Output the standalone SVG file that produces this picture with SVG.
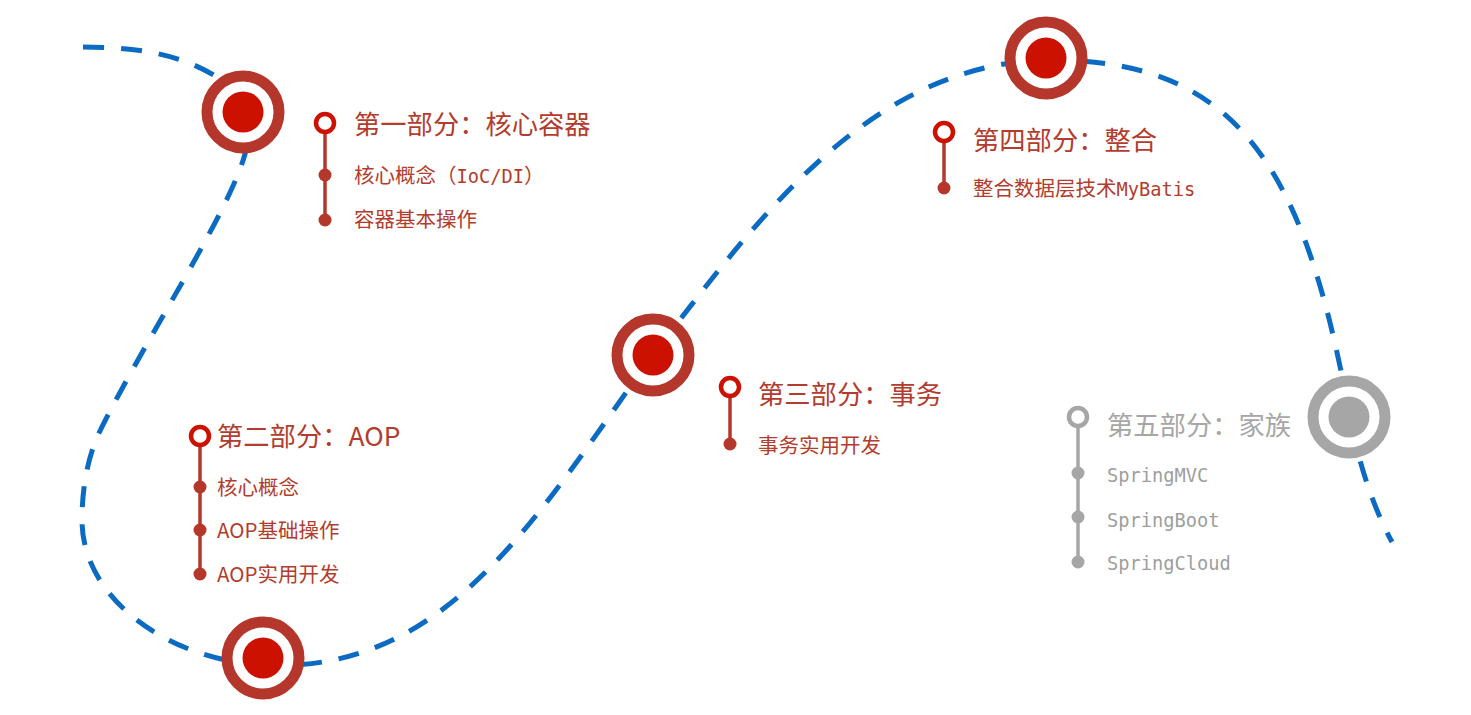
<svg xmlns="http://www.w3.org/2000/svg" width="1471" height="715" viewBox="0 0 1471 715">
<style>
.path{fill:none;stroke:#0B6BC2;stroke-width:5;stroke-dasharray:21 17}
.ring{fill:none;stroke:#B5362A;stroke-width:11}
.dot{fill:#CC1100}
.gring{fill:none;stroke:#A6A6A6;stroke-width:11}
.gdot{fill:#A6A6A6}
.open{fill:#fff;stroke:#CC1100;stroke-width:4.5}
.gopen{fill:#fff;stroke:#A6A6A6;stroke-width:4.5}
.line{stroke:#B5362A;stroke-width:3.5}
.gline{stroke:#A6A6A6;stroke-width:3.5}
.sd{fill:#B5362A}
.gsd{fill:#A6A6A6}
.title{font-family:"Noto Sans CJK SC","Noto Sans",sans-serif;font-size:26.3px;font-weight:400;fill:#B23C2D}
.sub{font-family:"Noto Sans CJK SC","Noto Sans",sans-serif;font-size:20.5px;fill:#B23C2D}
.mono{font-family:"DejaVu Sans Mono","Noto Sans CJK SC",monospace;font-size:18.7px}
.gray{fill:#A6A6A6}
.gsub{fill:#9E9E9E}
</style>
<g id="connectors">
<path class="path" d="M 83 47 C 150 47 200 58 240 95"/>
<path class="path" d="M 247 145 C 238 200 144 340 98 435 C 87 460 82 490 82 520 C 82 600 170 660 263 665"/>
<path class="path" d="M 263 665 C 450 675 540 510 653 355 C 760 215 870 65 1046 60"/>
<path class="path" d="M 1046 60 C 1240 58 1305 170 1350 417 C 1358 460 1372 505 1392 542"/>
</g>
<g id="milestone1">
<circle cx="243" cy="112" r="36" fill="#fff"/>
<circle class="ring" cx="243" cy="112" r="36"/>
<circle class="dot" cx="243" cy="112" r="20.5"/>
</g>
<g id="milestone2">
<circle cx="263" cy="658" r="36" fill="#fff"/>
<circle class="ring" cx="263" cy="658" r="36"/>
<circle class="dot" cx="263" cy="658" r="20.5"/>
</g>
<g id="milestone3">
<circle cx="653" cy="355" r="36" fill="#fff"/>
<circle class="ring" cx="653" cy="355" r="36"/>
<circle class="dot" cx="653" cy="355" r="20.5"/>
</g>
<g id="milestone4">
<circle cx="1046" cy="58" r="36" fill="#fff"/>
<circle class="ring" cx="1046" cy="58" r="36"/>
<circle class="dot" cx="1046" cy="58" r="20.5"/>
</g>
<g id="milestone5">
<circle cx="1349" cy="417" r="36" fill="#fff"/>
<circle class="gring" cx="1349" cy="417" r="36"/>
<circle class="gdot" cx="1349" cy="417" r="20.5"/>
</g>
<g id="part1">
<line class="line" x1="325" y1="130" x2="325" y2="220"/>
<circle class="open" cx="325" cy="123" r="9"/>
<circle class="sd" cx="325" cy="175" r="6.5"/>
<circle class="sd" cx="325" cy="220" r="6.5"/>
<text class="title" x="354" y="134">第一部分：核心容器</text>
<text class="sub" x="354" y="183">核心概念（<tspan class="mono">IoC/DI</tspan>）</text>
<text class="sub" x="354" y="227">容器基本操作</text>
</g>
<g id="part2">
<line class="line" x1="200" y1="443" x2="200" y2="574"/>
<circle class="open" cx="200" cy="436" r="9"/>
<circle class="sd" cx="200" cy="487" r="6.5"/>
<circle class="sd" cx="200" cy="530" r="6.5"/>
<circle class="sd" cx="200" cy="574" r="6.5"/>
<text class="title" x="217" y="446">第二部分：AOP</text>
<text class="sub" x="217" y="495">核心概念</text>
<text class="sub" x="217" y="538">AOP基础操作</text>
<text class="sub" x="217" y="582">AOP实用开发</text>
</g>
<g id="part3">
<line class="line" x1="730" y1="394" x2="730" y2="444"/>
<circle class="open" cx="730" cy="387" r="9"/>
<circle class="sd" cx="730" cy="444" r="6.5"/>
<text class="title" x="758" y="404">第三部分：事务</text>
<text class="sub" x="758" y="453">事务实用开发</text>
</g>
<g id="part4">
<line class="line" x1="944" y1="139" x2="944" y2="188"/>
<circle class="open" cx="944" cy="132" r="9"/>
<circle class="sd" cx="944" cy="188" r="6.5"/>
<text class="title" x="973" y="150">第四部分：整合</text>
<text class="sub" x="973" y="196">整合数据层技术<tspan class="mono">MyBatis</tspan></text>
</g>
<g id="part5">
<line class="gline" x1="1078" y1="424" x2="1078" y2="562"/>
<circle class="gopen" cx="1078" cy="417" r="9"/>
<circle class="gsd" cx="1078" cy="473" r="6.5"/>
<circle class="gsd" cx="1078" cy="517" r="6.5"/>
<circle class="gsd" cx="1078" cy="562" r="6.5"/>
<text class="title gray" x="1107" y="435">第五部分：家族</text>
<text class="sub mono gsub" x="1107" y="482">SpringMVC</text>
<text class="sub mono gsub" x="1107" y="527">SpringBoot</text>
<text class="sub mono gsub" x="1107" y="570">SpringCloud</text>
</g>
</svg>
